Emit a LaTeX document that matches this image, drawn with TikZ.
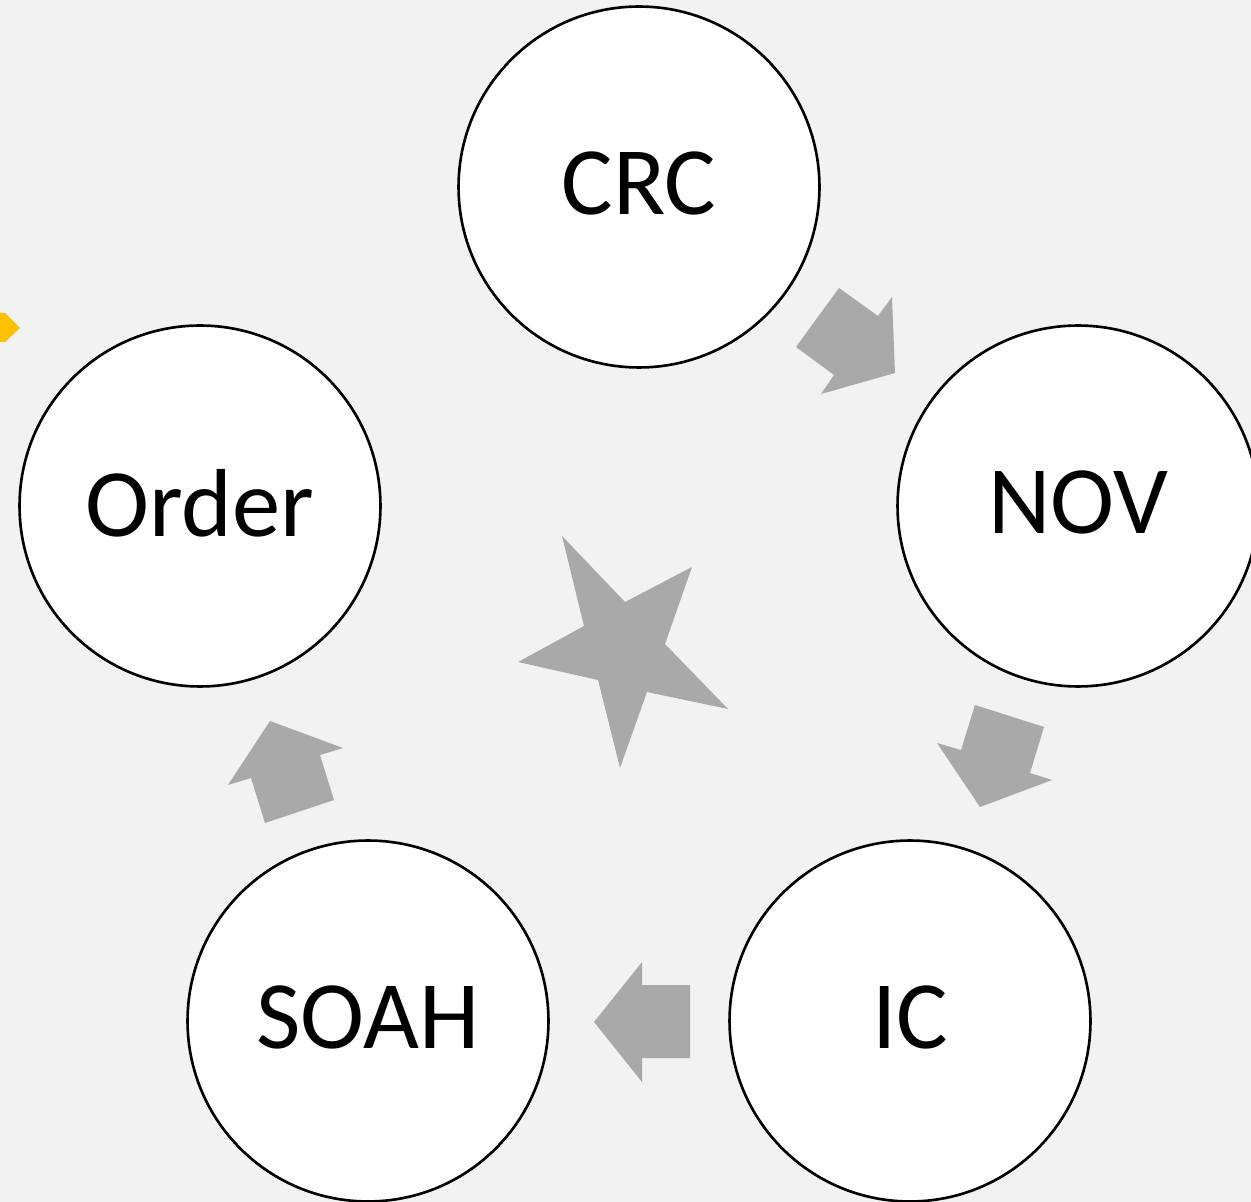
\documentclass[tikz,border=0pt]{standalone}
\usepackage{fontspec}
\setmainfont{Carlito}
\definecolor{bg}{HTML}{F2F2F2}
\definecolor{arrowgrey}{HTML}{A9A9A9}
\definecolor{accent}{HTML}{FFC000}
\tikzset{
  stage/.style={circle, draw=black, line width=1.5pt, fill=white, minimum size=7.22cm, inner sep=0pt, text depth=4pt, font=\fontsize{55}{60}\selectfont},
  blockarrow/.style={fill=arrowgrey, draw=none},
}
\begin{document}
\begin{tikzpicture}[x=0.02cm, y=-0.02cm]
\useasboundingbox (0,0) rectangle (1251,1202);
\clip (0,0) rectangle (1251,1202);
\fill[bg] (0,0) rectangle (1251,1202);
% partial accent shape at left edge
\fill[accent] (-5,313) -- (5,313) -- (20,328) -- (5,342) -- (-5,342) -- cycle;
% stages
\node[stage] (crc) at (639,187) {CRC};
\node[stage] (nov) at (1078,506) {NOV};
\node[stage] (ic) at (910,1021) {IC};
\node[stage] (soah) at (368,1021) {SOAH};
\node[stage] (order) at (200,506) {Order};
% block arrows
\fill[blockarrow] (839,288) -- (878,316) -- (892,297) -- (895,373) -- (821,394) -- (834,375) -- (796,347) -- cycle;
\fill[blockarrow] (975,705) -- (1044,727) -- (1030,773) -- (1052,780) -- (980,807) -- (937,743) -- (961,750) -- cycle;
\fill[blockarrow] (690,985) -- (690,1058) -- (642,1058) -- (642,1082) -- (594,1022) -- (642,962) -- (642,985) -- cycle;
\fill[blockarrow] (265,823) -- (334,800) -- (320,755) -- (343,748) -- (270,721) -- (228,785) -- (251,778) -- cycle;
% star
\fill[blockarrow] (562,536) -- (625,602) -- (692,567) -- (665,644) -- (728,709) -- (647,692) -- (620,768) -- (598,680) -- (518,662) -- (584,626) -- cycle;
\end{tikzpicture}
\end{document}
